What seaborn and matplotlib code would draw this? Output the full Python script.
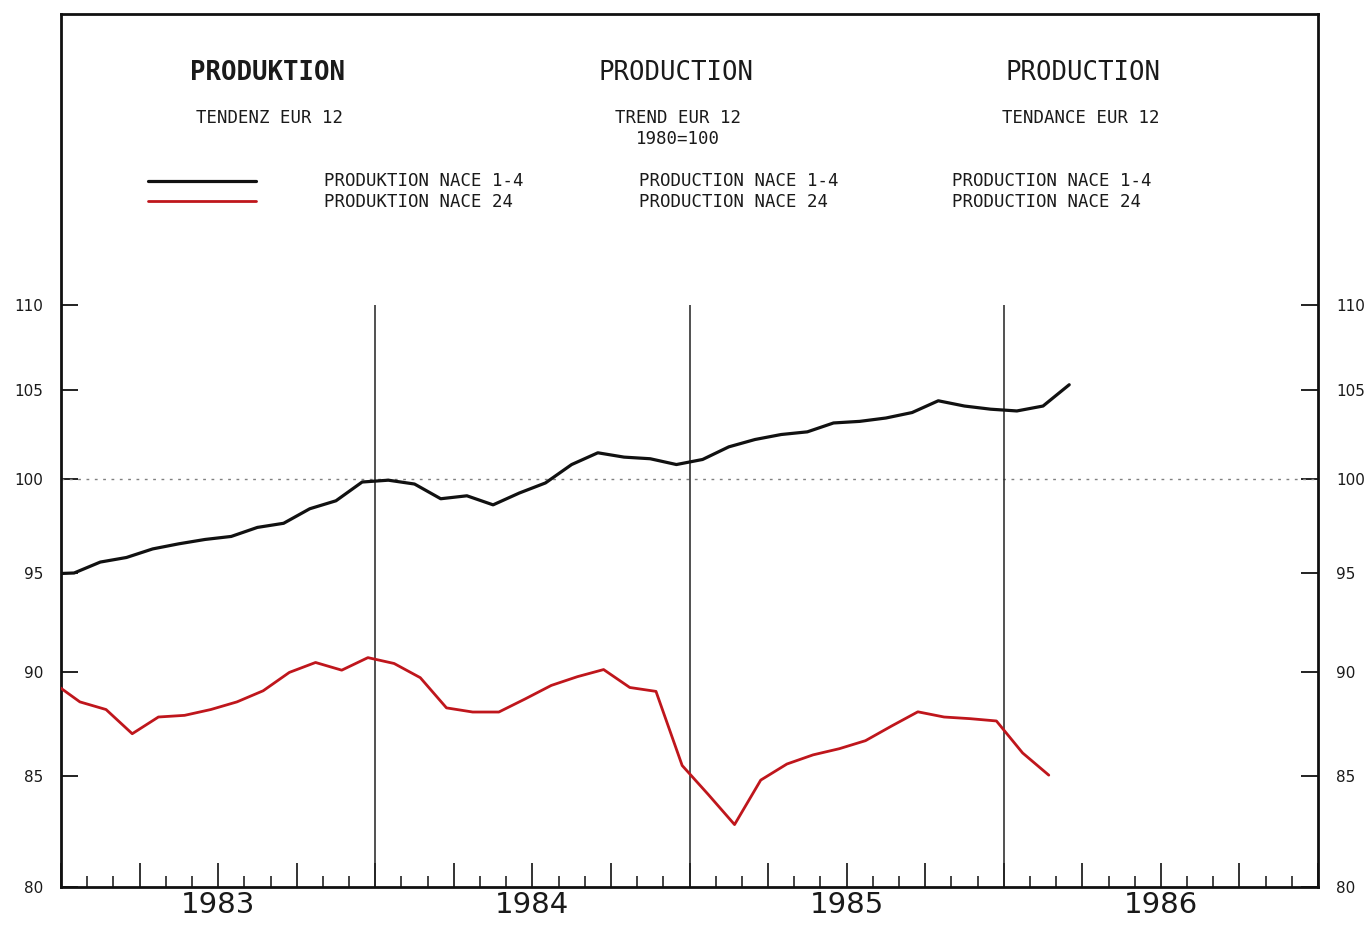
import numpy as np
import pandas as pd
import matplotlib
matplotlib.use("Agg")
import matplotlib.pyplot as plt
from matplotlib.lines import Line2D
from matplotlib.ticker import FixedLocator, MultipleLocator, NullLocator, NullFormatter
import seaborn as sns

# monthly trend, EUR 12, 1980=100
# first value is Dec 1982 (only its segment into Jan 1983 is visible)
start_month = "1982-12"
nace_1_4 = [94.95, 95.0, 95.57, 95.81, 96.26, 96.53, 96.76, 96.92, 97.40, 97.62, 98.40, 98.83, 99.85,
            99.95, 99.74, 98.94, 99.10, 98.61, 99.25, 99.80, 100.81, 101.46, 101.22, 101.13, 100.81,
            101.09, 101.79, 102.20, 102.48, 102.63, 103.13, 103.22, 103.41, 103.72, 104.39, 104.09, 103.91,
            103.81, 104.09, 105.31]
nace_24 = [89.45, 88.53, 88.16, 87.00, 87.80, 87.88, 88.16, 88.53, 89.07, 89.97, 90.46, 90.08, 90.70,
           90.41, 89.71, 88.24, 88.04, 88.04, 88.67, 89.33, 89.76, 90.11, 89.23, 89.04, 85.50,
           84.15, 82.78, 84.82, 85.57, 86.00, 86.29, 86.67, 87.37, 88.05, 87.80, 87.72, 87.61,
           86.09, 85.05]

years = [1983, 1984, 1985, 1986]
y_ticks = [80, 85, 90, 95, 100, 105, 110]

titles = ["PRODUKTION", "PRODUCTION", "PRODUCTION"]
subtitles = ["TENDENZ EUR 12", "TREND EUR 12", "TENDANCE EUR 12"]
base_note = "1980=100"
label_1_4 = ["PRODUKTION NACE 1-4", "PRODUCTION NACE 1-4", "PRODUCTION NACE 1-4"]
label_24 = ["PRODUKTION NACE 24", "PRODUCTION NACE 24", "PRODUCTION NACE 24"]

BLACK = "#111111"
RED = "#bf161c"
TXT = "#1a1a1a"


def month_pos(start, n, shift):
    # months counted from Jan of the first year, plotted inside the month
    p = pd.period_range(start, periods=n, freq="M")
    return np.asarray((p.year - years[0]) * 12 + p.month - 1, dtype=float) + shift


df_black = pd.DataFrame({"x": month_pos(start_month, len(nace_1_4), 0.5), "y": nace_1_4})
df_red = pd.DataFrame({"x": month_pos(start_month, len(nace_24), 0.72), "y": nace_24})

sns.set_style("white")
plt.rcParams["font.family"] = ["DejaVu Sans"]

W, H = 1370, 926
fig = plt.figure(figsize=(W / 100, H / 100), dpi=100)
ax = fig.add_axes([61 / W, 1 - 887 / H, 1257 / W, 873 / H])

ax.set_yscale("log")
ax.set_xlim(0, 12 * len(years))
ax.set_ylim(80, 129)

# reference lines
ax.axhline(100, color="#808080", lw=1.0, ls=(0, (2, 4)), zorder=1)
ax.vlines([12 * i for i in range(1, len(years))], 80, 110, color="#222222", lw=1.1, zorder=1)

sns.lineplot(data=df_black, x="x", y="y", ax=ax, color=BLACK, lw=2.3, zorder=3)
sns.lineplot(data=df_red, x="x", y="y", ax=ax, color=RED, lw=2.0, zorder=3)
ax.set_xlabel("")
ax.set_ylabel("")

for sp in ax.spines.values():
    sp.set_visible(True)
    sp.set_color("#111111")
    sp.set_linewidth(2.0)

# y axis: labels on both sides, ticks pointing in
ax.yaxis.set_major_locator(FixedLocator(y_ticks))
ax.yaxis.set_minor_locator(NullLocator())
ax.yaxis.set_minor_formatter(NullFormatter())
ax.set_yticklabels([str(v) for v in y_ticks])
ax.tick_params(axis="y", which="major", direction="in", length=12.5, width=1.3,
               left=True, right=True, labelleft=True, labelright=True,
               labelsize=11, labelcolor=TXT, pad=13, color="#111111")

# x axis: monthly ticks, quarterly longer
ax.xaxis.set_major_locator(MultipleLocator(3))
ax.xaxis.set_minor_locator(MultipleLocator(1))
ax.tick_params(axis="x", which="major", direction="in", length=17, width=1.2,
               bottom=True, top=False, labelbottom=False, color="#111111")
ax.tick_params(axis="x", which="minor", direction="in", length=8, width=1.1,
               bottom=True, top=False, color="#111111")

for i, yr in enumerate(years):
    ax.annotate(str(yr), xy=(12 * i + 6, 0), xycoords=("data", "axes fraction"),
                xytext=(0, -3), textcoords="offset points",
                ha="center", va="top", fontsize=21, color=TXT)

# headings in three languages
mono = "DejaVu Sans Mono"
title_x = [268, 676, 1083]
sub_x = [269, 678, 1081]
for i in range(3):
    fig.text(title_x[i] / W, 1 - 73 / H, titles[i], ha="center", va="center",
             family=mono, fontsize=18.5, color=TXT,
             fontweight="bold" if i == 0 else "normal")
    fig.text(sub_x[i] / W, 1 - 118 / H, subtitles[i], ha="center", va="center",
             family=mono, fontsize=12.5, color=TXT)
fig.text(678 / W, 1 - 139 / H, base_note, ha="center", va="center",
         family=mono, fontsize=12.5, color=TXT)

# legend
leg_x = [324, 639, 952]
for i in range(3):
    fig.text(leg_x[i] / W, 1 - 181 / H, label_1_4[i], ha="left", va="center",
             family=mono, fontsize=12.5, color=TXT)
    fig.text(leg_x[i] / W, 1 - 202 / H, label_24[i], ha="left", va="center",
             family=mono, fontsize=12.5, color=TXT)
fig.add_artist(Line2D([148 / W, 256 / W], [1 - 181 / H, 1 - 181 / H], color=BLACK, lw=2.3))
fig.add_artist(Line2D([148 / W, 256 / W], [1 - 201 / H, 1 - 201 / H], color=RED, lw=2.0))

fig.savefig("out.png", dpi=100, facecolor="white")
